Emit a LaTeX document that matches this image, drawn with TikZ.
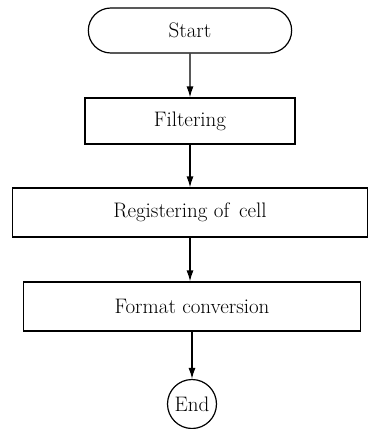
\documentclass[tikz,border=0pt]{standalone}
\usepackage{amsmath}
\usepackage{fontspec}
\usepackage{tikz}
\usetikzlibrary{arrows,arrows.meta,positioning,calc,shapes.misc}

\begin{document}
\begin{tikzpicture}[x=1pt,y=1pt,
        boxtext/.style={font=\fontsize{21}{24}\selectfont\addfontfeatures{LetterSpace=12}},
        stepbox/.style={draw,line width=1.2pt,rectangle,minimum height=46pt,boxtext},
        terminal/.style={draw,line width=1.2pt,rounded rectangle,minimum width=210pt,minimum height=45pt,boxtext},
        stop/.style={draw,line width=1.2pt,circle,minimum size=49pt,inner sep=0pt,boxtext},
        flow/.style={-{Latex[length=11pt,width=7pt]},line width=1.2pt}]
        \useasboundingbox (0,0) rectangle (371,-429);

        % Start and end
        \node[terminal] (start) at (190,-30.5) {Start};
        \node[stop] (end) at (192,-404) {End};

        % Processing steps
        \node[stepbox,minimum width=210pt] (filter) at (190,-121) {Filtering};
        \node[stepbox,minimum width=355pt,minimum height=49pt] (register) at (190,-212.5) {Registering of\, cell};
        \node[stepbox,minimum width=337pt,minimum height=49pt] (convert) at (192,-306.5) {Format conversion};

        % Arcs between steps
        \draw[flow] (start) -- (start |- filter.north);
        \draw[flow] (filter) -- (filter |- register.north);
        \draw[flow] (register) -- (register |- convert.north);
        \draw[flow] (convert.south -| end) -- (end);
    \end{tikzpicture}
\end{document}
